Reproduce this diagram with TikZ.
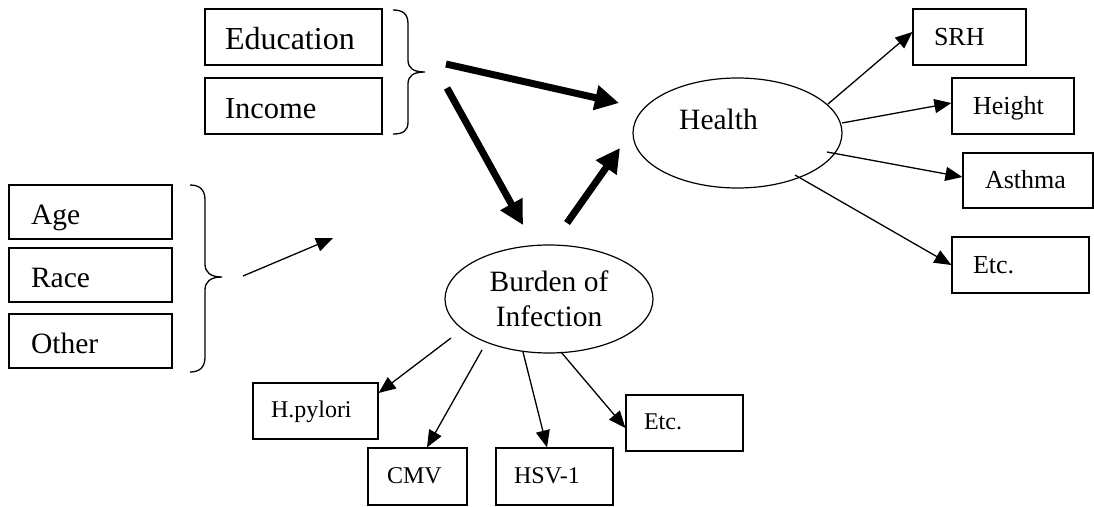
\documentclass[tikz,border=0pt]{standalone}
\usepackage{fontspec}
\setmainfont{Liberation Serif}
\usetikzlibrary{arrows.meta,shapes.geometric}
\tikzset{
  box/.style={draw, line width=1.2pt, rectangle, align=left, inner ysep=0pt, minimum height=56pt},
  bigtxt/.style={font=\fontsize{29.5}{35}\selectfont, text height=24pt, text depth=0pt},
  midtxt/.style={font=\fontsize{26}{30}\selectfont, text height=16pt, text depth=0pt},
  smalltxt/.style={font=\fontsize{24}{28}\selectfont, text height=13pt, text depth=0pt},
  ell/.style={draw, ellipse, line width=1.2pt, inner sep=0pt},
  thin/.style={line width=1.3pt, -{Triangle[length=17pt,width=14pt]}},
  thick/.style={line width=7pt, -{Triangle[length=24pt,width=24pt]}},
  bracestyle/.style={line width=1.3pt}
}
\begin{document}
\begin{tikzpicture}[x=1pt,y=-1pt]
\useasboundingbox[fill=white] (0,0) rectangle (1094,506);

% left boxes
\node[box,bigtxt,font=\fontsize{32}{36}\selectfont,inner xsep=20pt,text width=137pt] (edu) at (293.5,37) {Education};
\node[box,bigtxt,font=\fontsize{30.5}{35}\selectfont,inner xsep=20pt,text width=137pt] (inc) at (293.5,106) {Income};
\node[box,bigtxt,inner xsep=22pt,text width=119pt,minimum height=54pt] (age) at (90.5,212) {Age};
\node[box,bigtxt,inner xsep=22pt,text width=119pt,minimum height=54pt] (race) at (90.5,275) {Race};
\node[box,bigtxt,inner xsep=22pt,text width=119pt,minimum height=54pt] (other) at (90.5,341) {Other};

% braces
\draw[bracestyle] (393,10) .. controls (403,10) and (408,14) .. (408,24) -- (408,60)
  .. controls (408,68) and (413,72) .. (425,72)
  .. controls (413,72) and (408,76) .. (408,84) -- (408,122)
  .. controls (408,131) and (403,134) .. (393,134);
\draw[bracestyle] (190,185) .. controls (200,185) and (205,190) .. (205,200) -- (205,264)
  .. controls (205,272) and (210,277) .. (222,277)
  .. controls (210,277) and (205,282) .. (205,290) -- (205,357)
  .. controls (205,367) and (200,372) .. (190,372);

% ellipses
\node[ell,minimum width=209pt,minimum height=110pt] (health) at (737.5,133) {};
\node[anchor=base west,font=\fontsize{29.5}{35}\selectfont,inner sep=0pt] (healthtxt) at (679,129) {Health};
\node[ell,minimum width=208pt,minimum height=108pt,align=center,font=\fontsize{29.5}{35}\selectfont] (burden) at (549,299) {Burden of\\Infection};

% right boxes
\node[box,midtxt,inner xsep=21pt,text width=71pt] (srh) at (969.5,37) {SRH};
\node[box,midtxt,inner xsep=21pt,text width=80pt] (height) at (1013,106) {Height};
\node[box,midtxt,inner xsep=22pt,text width=86pt,minimum height=55pt] (asthma) at (1028,180.5) {Asthma};
\node[box,midtxt,inner xsep=21pt,text width=95pt] (etcr) at (1020.5,265) {Etc.};

% bottom boxes
\node[box,smalltxt,inner xsep=18pt,text width=89pt] (hp) at (315.5,411) {H.pylori};
\node[box,smalltxt,inner xsep=19pt,text width=61pt,minimum height=57pt] (cmv) at (417.5,476.5) {CMV};
\node[box,smalltxt,inner xsep=18pt,text width=81pt,minimum height=57pt] (hsv) at (554.5,476.5) {HSV-1};
\node[box,smalltxt,inner xsep=18pt,text width=81pt] (etcb) at (684.5,423) {Etc.};

% thick arrows
\coordinate (t1s) at (446,64);  \coordinate (t1e) at (619,103);
\coordinate (t2s) at (447,88);  \coordinate (t2e) at (523,225);
\coordinate (t3s) at (567,223); \coordinate (t3e) at (620,148);
\draw[thick] (t1s) -- (t1e);
\draw[thick] (t2s) -- (t2e);
\draw[thick] (t3s) -- (t3e);

% thin arrow from covariates
\coordinate (cs) at (243,276); \coordinate (ce) at (333,238);
\draw[thin] (cs) -- (ce);

% health arrows
\coordinate (h1) at (828,104);
\coordinate (h2) at (842,123);
\coordinate (h3) at (827,152);
\coordinate (h4) at (795,175);
\draw[thin] (h1) -- ([yshift=5pt]srh.west);
\draw[thin] (h2) -- ([yshift=3pt]height.west);
\draw[thin] (h3) -- ([yshift=3.5pt]asthma.west);
\draw[thin] (h4) -- (etcr.west);

% burden arrows
\coordinate (b1) at (451,338);
\coordinate (b2) at (482,350);
\coordinate (b3) at (523,352);
\coordinate (b4) at (561,352);
\draw[thin] (b1) -- ([yshift=18pt]hp.east);
\draw[thin] (b2) -- ([xshift=9.5pt]cmv.north);
\draw[thin] (b3) -- ([xshift=-7.5pt]hsv.north);
\draw[thin] (b4) -- ([yshift=-5pt]etcb.west);
\end{tikzpicture}
\end{document}
